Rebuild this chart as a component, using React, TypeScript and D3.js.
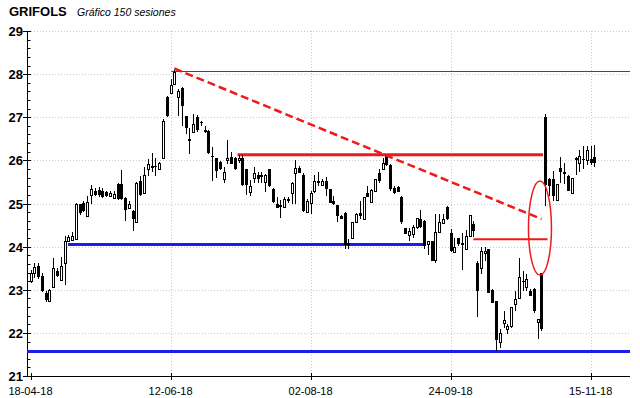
import React from 'react';
import * as d3 from 'd3';

// OHLC for 150 sessions
const opens = [23.20,23.38,23.55,23.33,22.92,22.73,23.07,23.43,23.22,23.63,24.12,24.15,24.17,24.98,25.02,24.70,25.19,25.30,25.32,25.30,25.26,25.17,25.13,25.45,25.45,25.13,24.90,24.83,24.58,25.53,25.24,25.81,25.85,25.88,25.80,26.05,27.48,27.56,27.77,27.48,27.67,27.02,26.50,26.65,27.00,26.88,26.70,26.69,26.10,26.05,25.97,25.57,26.02,26.07,26.05,26.00,26.05,25.79,25.27,25.60,25.65,25.66,25.50,25.79,25.34,25.00,24.96,24.91,25.11,25.25,25.70,25.82,25.67,24.81,25.02,25.29,25.50,25.44,25.52,25.34,25.06,24.96,24.72,24.79,24.09,24.20,24.56,24.78,24.64,25.25,25.04,25.29,25.71,25.79,26.09,25.90,25.37,25.39,25.16,24.43,24.26,24.30,24.45,24.63,24.60,24.05,24.13,23.69,24.34,24.54,24.91,24.31,23.88,24.19,24.08,23.94,24.25,24.52,23.63,23.51,23.86,23.94,23.00,22.74,21.78,22.22,22.10,22.16,22.67,22.80,23.21,23.07,22.98,23.02,22.26,23.40,27.00,25.57,25.57,25.07,25.82,25.74,25.63,25.24,26.05,25.94,26.03,26.02,26.03,26.07];
const highs = [23.45,23.62,23.62,23.40,22.96,23.02,23.74,23.50,23.76,24.25,24.26,24.35,25.02,25.00,25.06,25.17,25.44,25.36,25.38,25.35,25.30,25.28,25.30,25.47,25.78,25.15,25.05,24.86,25.50,25.64,25.84,26.03,26.17,26.05,25.97,26.97,27.50,27.88,28.12,27.65,27.70,27.03,26.76,27.07,27.05,26.92,26.80,26.70,26.32,26.06,25.99,25.84,26.48,26.20,26.07,26.13,26.13,25.80,25.54,25.85,25.73,25.72,25.68,25.81,25.35,25.14,25.08,25.15,25.15,25.50,26.01,25.86,25.70,25.11,25.29,25.67,25.73,25.56,25.62,25.34,25.18,24.97,24.74,24.80,24.18,24.56,24.77,25.06,25.14,25.40,25.33,25.56,25.79,26.05,26.15,25.91,25.41,25.41,25.17,24.44,24.44,24.50,24.66,24.85,24.62,24.13,24.14,24.75,24.75,24.75,24.95,24.40,24.21,24.20,24.32,24.39,24.73,24.60,23.66,23.98,23.98,23.95,23.01,22.75,22.08,22.50,22.20,22.60,22.97,23.73,23.43,23.37,23.02,23.03,22.32,23.40,27.08,25.60,25.76,25.45,26.07,25.95,25.66,25.60,26.07,26.24,26.34,26.34,26.34,26.36];
const lows = [23.15,23.28,23.25,22.95,22.72,22.72,23.05,23.30,23.20,23.10,24.10,24.13,24.15,24.74,24.80,24.68,24.98,25.17,25.16,25.12,25.14,25.14,25.10,25.08,25.08,24.60,24.88,24.37,24.55,25.18,25.24,25.64,25.72,25.63,25.78,26.03,27.00,27.54,27.77,27.03,26.80,26.61,26.15,26.63,26.65,26.80,26.63,26.15,25.53,25.60,25.78,25.48,25.92,25.92,25.78,25.95,25.40,25.20,25.18,25.48,25.48,25.48,25.27,25.38,25.02,24.89,24.66,24.89,25.02,24.98,24.98,25.70,24.80,24.79,24.75,25.25,25.40,25.40,25.18,25.02,24.96,24.58,24.64,23.95,23.95,24.18,24.55,24.64,24.62,25.14,25.02,25.28,25.48,25.79,25.88,25.30,25.23,25.27,24.52,24.30,24.14,24.20,24.42,24.43,23.95,23.80,23.67,23.63,24.32,24.52,24.62,23.88,23.86,24.02,23.46,23.93,24.23,24.23,22.37,23.37,23.66,22.93,22.70,21.57,21.65,22.12,21.97,22.12,22.50,22.80,22.97,22.97,22.86,22.47,21.86,22.05,24.95,25.18,25.06,25.07,25.48,25.46,25.28,25.22,25.67,25.72,25.80,25.90,25.90,25.85];
const closes = [23.38,23.52,23.30,22.97,22.76,22.99,23.50,23.33,23.55,24.13,24.22,24.25,25.00,24.78,24.83,25.03,25.34,25.20,25.20,25.15,25.17,25.25,25.22,25.10,25.10,24.86,25.00,24.64,25.47,25.20,25.67,25.92,25.88,25.85,25.94,26.92,27.03,27.75,28.05,27.60,27.27,26.74,26.46,26.84,26.71,26.86,26.65,26.18,26.07,25.76,25.80,25.72,26.05,25.92,25.79,26.06,25.44,25.44,25.40,25.71,25.57,25.62,25.65,25.40,25.04,24.89,24.92,25.11,25.06,25.47,25.82,25.71,24.83,25.06,25.25,25.52,25.53,25.52,25.34,25.02,25.00,24.70,24.64,24.03,24.03,24.56,24.76,24.72,25.14,25.16,25.31,25.56,25.52,25.95,25.90,25.33,25.25,25.27,24.56,24.30,24.37,24.45,24.66,24.45,24.02,24.13,23.67,24.34,24.56,24.65,24.64,23.90,24.00,24.05,24.03,24.25,24.73,24.36,22.97,23.90,23.90,22.93,22.70,21.84,22.00,22.31,22.16,22.60,22.78,23.29,23.17,23.24,22.86,22.51,22.32,22.09,25.43,25.41,25.18,25.45,25.72,25.69,25.30,25.60,26.00,26.10,26.00,26.23,25.94,25.94];

const dateTickIndex = [0, 37, 74, 111, 148];
const dateTickLabels = ['18-04-18', '12-06-18', '02-08-18', '24-09-18', '15-11-18'];
const priceTicks = [21, 22, 23, 24, 25, 26, 27, 28, 29];

// annotation levels
const peakLevel = 28.07;
const resistanceLevel = 26.13;
const gapLevel = 24.17;
const upperSupport = 24.05;
const lowerSupport = 21.57;
const trendStart = { i: 38, v: 28.13 };
const trendEnd = { i: 135, v: 24.64 };

export default function App() {
  const W = 640, H = 398;
  const left = 27, right = 630, top = 31, bottom = 376;
  const x = d3.scaleLinear().domain([0, 149]).range([30.5, 30.5 + 149 * 3.785]);
  const y = d3.scaleLinear().domain([21, 29]).range([bottom, top]);
  const minor = d3.range(21, 29.001, 0.2).filter(v => Math.abs(v - Math.round(v)) > 0.01);
  const grid = '#c8c8d6';
  const idx = d3.range(opens.length);
  const py = (v: number) => Math.round(y(v)) + 0.5;
  return (
    <svg width={W} height={H} style={{ position: 'absolute', left: 0, top: 0, background: '#fff' }}
      fontFamily="'Liberation Sans', Arial, sans-serif">
      <rect x={0} y={0} width={W} height={H} fill="#fff" />
      <text x={9} y={16} fontSize={13} fontWeight="bold" fill="#000">GRIFOLS</text>
      <text x={77} y={16} fontSize={10.5} fontStyle="italic" fill="#000">Gráfico 150 sesiones</text>
      {/* gridlines */}
      {priceTicks.slice(1).map(v => (
        <line key={'hg' + v} x1={left + 4} x2={right} y1={py(v)} y2={py(v)}
          stroke={grid} strokeDasharray="1,2" />
      ))}
      {dateTickIndex.slice(1).map(i => (
        <line key={'vg' + i} x1={Math.round(x(i)) + 0.5} x2={Math.round(x(i)) + 0.5} y1={top} y2={bottom}
          stroke={grid} strokeDasharray="1,2" />
      ))}
      {/* axes */}
      <line x1={left + 0.5} x2={left + 0.5} y1={top} y2={bottom + 1} stroke="#000" />
      <line x1={left} x2={right} y1={bottom + 0.5} y2={bottom + 0.5} stroke="#000" />
      {priceTicks.map(v => (
        <g key={'yt' + v}>
          <line x1={left - 4} x2={left + 4} y1={py(v)} y2={py(v)} stroke="#000" />
          <text x={left - 4} y={y(v) + 5} textAnchor="end" fontSize={13} fontWeight="bold" fill="#000">{v}</text>
        </g>
      ))}
      {minor.map(v => (
        <line key={'ym' + v} x1={left} x2={left + 3.5} y1={py(v)} y2={py(v)} stroke="#000" />
      ))}
      {dateTickIndex.map((i, k) => (
        <g key={'xt' + i}>
          <line x1={Math.round(x(i)) + 0.5} x2={Math.round(x(i)) + 0.5} y1={bottom - 3} y2={bottom + 4} stroke="#000" />
          <text x={x(i)} y={395} textAnchor="middle" fontSize={11} fill="#000">{dateTickLabels[k]}</text>
        </g>
      ))}
      {/* support / resistance lines */}
      <line x1={x(trendStart.i) - 3} x2={right} y1={py(peakLevel)} y2={py(peakLevel)} stroke="#d01010" strokeWidth={1} />
      <line x1={left} x2={right} y1={y(lowerSupport)} y2={y(lowerSupport)} stroke="#1c1cf0" strokeWidth={3} />
      <line x1={x(9.9)} x2={x(104.2)} y1={y(upperSupport)} y2={y(upperSupport)} stroke="#1c1cf0" strokeWidth={3} />
      <line x1={x(54.7)} x2={x(135.4)} y1={y(resistanceLevel)} y2={y(resistanceLevel)} stroke="#f01818" strokeWidth={3} />
      <line x1={x(117)} x2={x(136.6)} y1={y(gapLevel)} y2={y(gapLevel)} stroke="#f01818" strokeWidth={2} />
      {/* candles */}
      {idx.map(i => {
        const o = opens[i], c = closes[i];
        const up = c >= o;
        const cx = Math.round(x(i));
        const yt = Math.round(y(Math.max(o, c)));
        const yb = Math.round(y(Math.min(o, c)));
        return (
          <g key={'c' + i}>
            <line x1={cx + 0.5} x2={cx + 0.5} y1={Math.round(y(highs[i]))} y2={Math.round(y(lows[i]))} stroke="#000" />
            {up ? (
              <rect x={cx - 0.5} y={yt + 0.5} width={2} height={Math.max(1, yb - yt)} fill="#fff" stroke="#000" strokeWidth={1} />
            ) : (
              <rect x={cx - 1} y={yt} width={3} height={Math.max(1, yb - yt)} fill="#000" />
            )}
          </g>
        );
      })}
      {/* trend line and ellipse */}
      <line x1={x(trendStart.i)} y1={y(trendStart.v)} x2={x(trendEnd.i)} y2={y(trendEnd.v)}
        stroke="#f01818" strokeWidth={2.5} strokeDasharray="8,4" />
      <ellipse cx={x(134.6)} cy={y(24.43)} rx={11.5} ry={47} fill="none" stroke="#f01818" strokeWidth={1.5} />
    </svg>
  );
}
